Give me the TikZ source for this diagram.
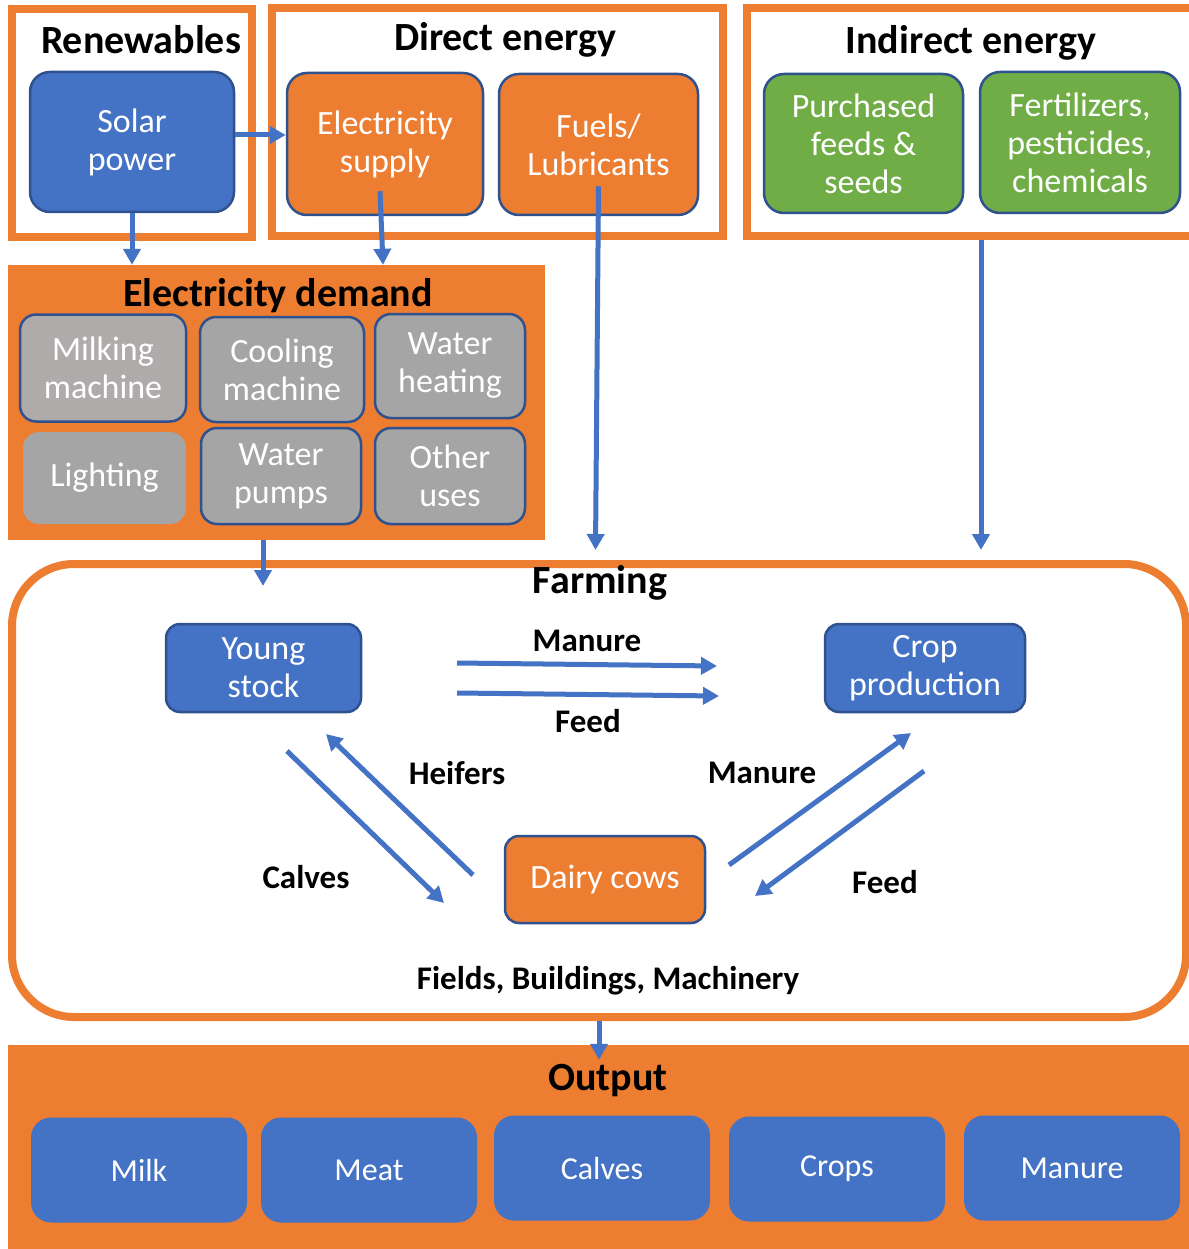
\documentclass[tikz,border=0pt]{standalone}
\usepackage{fontspec}
\setmainfont{Carlito}
\usetikzlibrary{arrows.meta}

\definecolor{orng}{HTML}{ED7D31}
\definecolor{blu}{HTML}{4472C4}
\definecolor{bordblu}{HTML}{2F528F}
\definecolor{grn}{HTML}{70AD47}
\definecolor{gry}{HTML}{A5A5A5}
\definecolor{gryb}{HTML}{AFABAB}

\begin{document}
\begin{tikzpicture}[x=1pt,y=-1pt,
  flow/.style={draw=blu,line width=5pt,-{Triangle[length=16pt,width=17pt]}},
  box/.style={rounded corners=20pt,draw=bordblu,line width=2.5pt,text=white,align=center,
    inner sep=0pt,font=\fontsize{34}{38}\selectfont},
  small/.style={box,rounded corners=16pt,fill=gry},
  outbox/.style={box,draw=none,fill=blu,minimum width=216pt,minimum height=105pt,
    font=\fontsize{32}{38}\selectfont},
  frame/.style={draw=orng,line width=8pt,inner sep=0pt},
  title/.style={font=\fontsize{40}{44}\selectfont\bfseries},
  lbl/.style={font=\fontsize{33}{38}\selectfont\bfseries}]
  \useasboundingbox (0,0) rectangle (1188,1249);

  % Input frames
  \node[frame,minimum width=240pt,minimum height=228pt] (renew) at (132,123) {};
  \node[frame,minimum width=451pt,minimum height=228pt] (direct) at (497.5,122) {};
  \node[frame,minimum width=453pt,minimum height=228pt] (indirect) at (973.5,122) {};
  \node[title] at (141,40) {Renewables};
  \node[title] at (505,40) {Direct energy};
  \node[title] at (971,43) {Indirect energy};

  \node[box,fill=blu,minimum width=204pt,minimum height=140pt] (solar) at (132,142) {Solar\\power};
  \node[box,fill=orng,minimum width=196pt,minimum height=142pt] (elsup) at (385,144) {Electricity\\supply};
  \node[box,fill=orng,minimum width=199pt,minimum height=141pt] (fuels) at (598.5,144.5) {Fuels/\\Lubricants};
  \node[box,fill=grn,minimum width=199pt,minimum height=139pt] (feeds) at (863.5,143.5) {Purchased\\feeds \&\\seeds};
  \node[box,fill=grn,minimum width=200pt,minimum height=141pt] (fert) at (1080,142.5) {Fertilizers,\\pesticides,\\chemicals};

  % Electricity demand
  \node[fill=orng,minimum width=537pt,minimum height=275pt,inner sep=0pt] (demand) at (276.5,402.5) {};
  \node[title] at (278,296) {Electricity demand};
  \node[small,fill=gryb,minimum width=166pt,minimum height=107pt] (milking) at (103,368) {Milking\\machine};
  \node[small,minimum width=164pt,minimum height=105pt] (cooling) at (282,369.5) {Cooling\\machine};
  \node[small,minimum width=150pt,minimum height=104pt] (heating) at (450,366) {Water\\heating};
  \node[small,draw=none,minimum width=163pt,minimum height=92pt] (lighting) at (104.5,478) {Lighting};
  \node[small,minimum width=160pt,minimum height=96pt] (pumps) at (281,476) {Water\\pumps};
  \node[small,minimum width=150pt,minimum height=96pt] (other) at (450,476) {Other\\uses};

  % Farming
  \node[frame,rounded corners=62pt,minimum width=1174pt,minimum height=453pt] (farming) at (599,790.5) {};
  \node[title] at (600,583) {Farming};
  \node[box,fill=blu,minimum width=195pt,minimum height=88pt,rounded corners=14pt] (young) at (263.5,668) {Young\\stock};
  \node[box,fill=blu,minimum width=200pt,minimum height=88pt,rounded corners=14pt] (crop) at (925,668) {Crop\\production};
  \node[box,fill=orng,minimum width=200pt,minimum height=87pt,rounded corners=14pt] (dairy) at (605,879.5) {Dairy cows};
  \node[lbl] at (608,981) {Fields, Buildings, Machinery};

  % Output
  \node[fill=orng,minimum width=1190pt,minimum height=210pt,inner sep=0pt] (output) at (603,1150) {};
  \node[title] at (608,1081) {Output};
  \node[outbox] (milk) at (139,1170) {Milk};
  \node[outbox] (meat) at (369,1170) {Meat};
  \node[outbox] (calves) at (602,1168) {Calves};
  \node[outbox] (crops) at (837,1169) {Crops};
  \node[outbox] (manure) at (1072,1168) {Manure};

  % Energy flows
  \draw[flow] ([yshift=7pt]solar.east) -- ([yshift=7pt]solar.east -| elsup.west);
  \draw[flow] (solar.south) -- (solar.south |- demand.north);
  \draw[flow] ([xshift=-5pt,yshift=25pt]elsup.south) -- ([xshift=-2pt]elsup.south |- demand.north);
  \draw[flow] ([yshift=30pt]fuels.south) -- ([xshift=-3pt,yshift=10pt]fuels.south |- farming.north);
  \draw[flow] ([xshift=7.5pt]indirect.south) -- ([xshift=7.5pt,yshift=10pt]indirect.south |- farming.north);
  \draw[flow] ([xshift=-18pt]pumps.south |- demand.south) -- ([xshift=-18pt,yshift=-26pt]pumps.south |- farming.north);
  \draw[flow] (farming.south) -- ([yshift=-15pt]farming.south |- output.north);

  % Flows inside the farm
  \coordinate (m1) at (457,663); \coordinate (m2) at (717,666);
  \coordinate (f1) at (457,693); \coordinate (f2) at (719,696);
  \coordinate (c1) at (287,751); \coordinate (c2) at (444,903);
  \coordinate (h1) at (473,875); \coordinate (h2) at (326,734);
  \coordinate (r1) at (729,865); \coordinate (r2) at (911,733);
  \coordinate (d1) at (924,771); \coordinate (d2) at (755,896);
  \draw[flow] (m1) -- node[lbl,above=7pt] {Manure} (m2);
  \draw[flow] (f1) -- node[lbl,below=9pt] {Feed} (f2);
  \draw[flow] (c1) -- (c2);
  \draw[flow] (h1) -- (h2);
  \draw[flow] (r1) -- (r2);
  \draw[flow] (d1) -- (d2);
  \node[lbl] at (306,877) {Calves};
  \node[lbl] at (457,773) {Heifers};
  \node[lbl] at (762,773) {Manure};
  \node[lbl] at (885,882) {Feed};
\end{tikzpicture}
\end{document}
